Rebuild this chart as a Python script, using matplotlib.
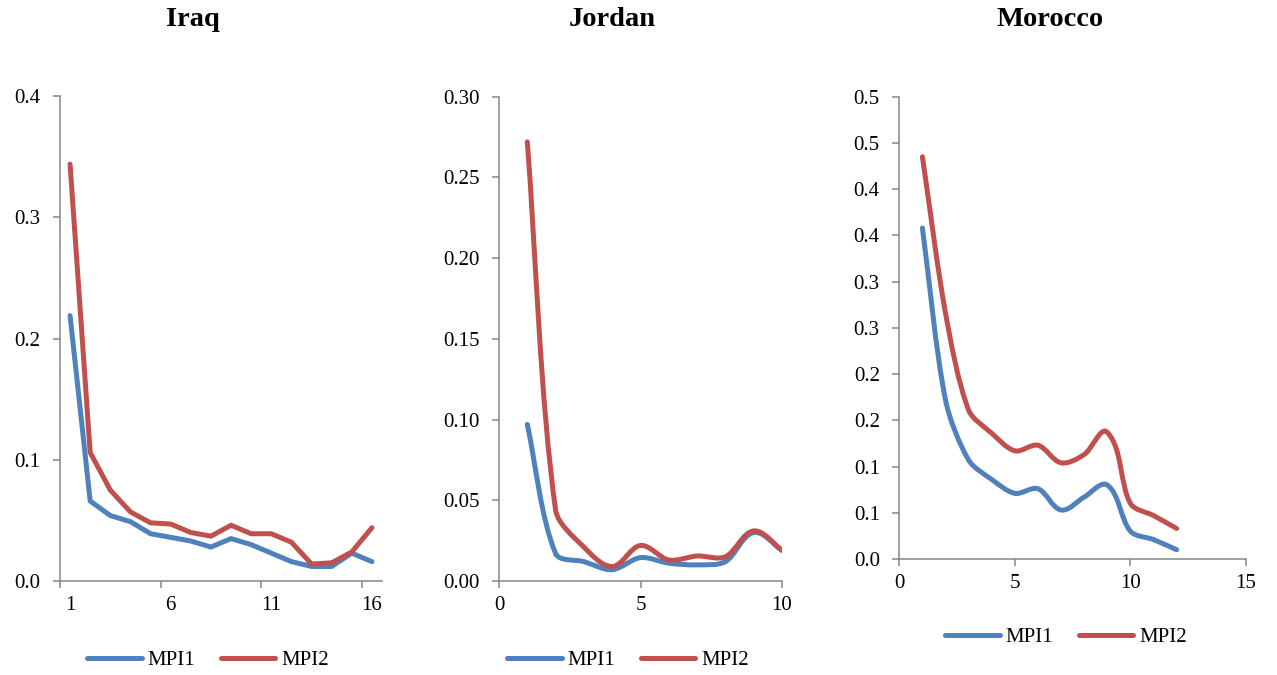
import matplotlib
matplotlib.use("Agg")
import matplotlib.pyplot as plt
from matplotlib.path import Path
from matplotlib.patches import PathPatch
from matplotlib.lines import Line2D

# ── Data ──────────────────────────────────────────────────────────────────────
iraq_x = [1, 2, 3, 4, 5, 6, 7, 8, 9, 10, 11, 12, 13, 14, 15, 16]
iraq_mpi1 = [0.219, 0.066, 0.054, 0.049, 0.039, 0.036, 0.033, 0.028,
             0.035, 0.030, 0.023, 0.016, 0.012, 0.012, 0.023, 0.016]
iraq_mpi2 = [0.344, 0.106, 0.075, 0.057, 0.048, 0.047, 0.040, 0.037,
             0.046, 0.039, 0.039, 0.032, 0.014, 0.015, 0.024, 0.044]

jordan_x = [1, 2, 3, 4, 5, 6, 7, 8, 9, 10]
jordan_mpi1 = [0.097, 0.017, 0.012, 0.007, 0.0145, 0.011, 0.010, 0.012, 0.030, 0.019]
jordan_mpi2 = [0.272, 0.044, 0.021, 0.009, 0.022, 0.013, 0.0155, 0.015, 0.031, 0.019]

morocco_x = [1, 2, 3, 4, 5, 6, 7, 8, 9, 10, 11, 12]
morocco_mpi1 = [0.358, 0.172, 0.107, 0.086, 0.071, 0.076, 0.053, 0.067,
                0.080, 0.030, 0.021, 0.010]
morocco_mpi2 = [0.435, 0.266, 0.161, 0.136, 0.117, 0.123, 0.104, 0.113,
                0.137, 0.060, 0.047, 0.033]

iraq_yticks = [0.0, 0.1, 0.2, 0.3, 0.4]
iraq_ylabels = ["0.0", "0.1", "0.2", "0.3", "0.4"]
iraq_xlabels = ["1", "6", "11", "16"]
jordan_yticks = [0.0, 0.05, 0.10, 0.15, 0.20, 0.25, 0.30]
jordan_ylabels = ["0.00", "0.05", "0.10", "0.15", "0.20", "0.25", "0.30"]
morocco_yticks = [0.0, 0.05, 0.1, 0.15, 0.2, 0.25, 0.3, 0.35, 0.4, 0.45, 0.5]
morocco_ylabels = ["0.0", "0.1", "0.1", "0.2", "0.2", "0.3", "0.3",
                   "0.4", "0.4", "0.5", "0.5"]

BLUE = "#4F81BD"
RED = "#C0504D"
AXIS = "#868686"
LW = 3.6

plt.rcParams["font.family"] = ["Liberation Serif", "DejaVu Serif"]
plt.rcParams["font.size"] = 15


def smooth_line(ax, xs, ys, color, wpx, hpx):
    # Excel-style smoothed line: bezier arms sized by screen segment length
    x0, x1 = ax.get_xlim()
    y0, y1 = ax.get_ylim()
    sx = wpx / (x1 - x0)
    sy = hpx / (y1 - y0)
    pts = [((x - x0) * sx, (y - y0) * sy) for x, y in zip(xs, ys)]
    n = len(pts)

    def dist(a, b):
        return ((a[0] - b[0]) ** 2 + (a[1] - b[1]) ** 2) ** 0.5

    tang = []
    for i in range(n):
        a = pts[max(i - 1, 0)]
        b = pts[min(i + 1, n - 1)]
        d = dist(a, b) or 1.0
        tang.append(((b[0] - a[0]) / d, (b[1] - a[1]) / d))

    k = 0.3
    verts = [pts[0]]
    codes = [Path.MOVETO]
    for i in range(n - 1):
        p1, p2 = pts[i], pts[i + 1]
        L = dist(p1, p2) * k
        c1 = (p1[0] + tang[i][0] * L, p1[1] + tang[i][1] * L)
        c2 = (p2[0] - tang[i + 1][0] * L, p2[1] - tang[i + 1][1] * L)
        verts += [c1, c2, p2]
        codes += [Path.CURVE4] * 3
    verts = [(vx / sx + x0, vy / sy + y0) for vx, vy in verts]
    ax.add_patch(PathPatch(Path(verts, codes), fill=False, edgecolor=color,
                           lw=LW, capstyle="round", joinstyle="round"))


def style_axes(ax):
    for s in ["top", "right"]:
        ax.spines[s].set_visible(False)
    for s in ["left", "bottom"]:
        ax.spines[s].set_color(AXIS)
        ax.spines[s].set_linewidth(1.1)
    ax.tick_params(which="major", direction="out", length=5, width=1.1,
                   color=AXIS, labelsize=15, labelcolor="black")
    ax.tick_params(axis="y", pad=9)
    ax.tick_params(axis="x", pad=6)


def add_legend(ax, cx, cy):
    handles = [Line2D([], [], color=BLUE, lw=LW, solid_capstyle="round"),
               Line2D([], [], color=RED, lw=LW, solid_capstyle="round")]
    ax.legend(handles, ["MPI1", "MPI2"], loc="center", ncol=2,
              bbox_to_anchor=(cx / 1277, 1 - cy / 675),
              bbox_transform=fig.transFigure, frameon=False,
              handlelength=2.6, handletextpad=0.3, columnspacing=1.2,
              fontsize=15)


fig = plt.figure(figsize=(12.77, 6.75), dpi=100)

# ── Iraq (category line chart) ───────────────────────────────────────────────
ax1 = fig.add_axes([60 / 1277, 1 - 581 / 675, 322 / 1277, 484.7 / 675])
ax1.plot(iraq_x, iraq_mpi1, color=BLUE, lw=LW, solid_capstyle="round",
         solid_joinstyle="round")
ax1.plot(iraq_x, iraq_mpi2, color=RED, lw=LW, solid_capstyle="round",
         solid_joinstyle="round")
ax1.set_xlim(0.5, 16.5)
ax1.set_ylim(0, 0.4)
ax1.set_yticks(iraq_yticks)
ax1.set_yticklabels(iraq_ylabels)
ax1.set_xticks([0.5, 5.5, 10.5, 15.5])
ax1.set_xticklabels([])
ax1.set_xticks([1, 6, 11, 16], minor=True)
ax1.set_xticklabels(iraq_xlabels, minor=True)
style_axes(ax1)
ax1.tick_params(axis="x", which="minor", length=0, labelsize=15, pad=11)
add_legend(ax1, 208, 660)
fig.text(193 / 1277, 1 - 20 / 675, "Iraq", ha="center", va="center",
         fontsize=20.5, fontweight="bold")

# ── Jordan (smoothed scatter) ─────────────────────────────────────────────────
ax2 = fig.add_axes([499 / 1277, 1 - 581 / 675, 283 / 1277, 484.3 / 675])
ax2.set_xlim(0, 10)
ax2.set_ylim(0, 0.30)
smooth_line(ax2, jordan_x, jordan_mpi1, BLUE, 283, 484.3)
smooth_line(ax2, jordan_x, jordan_mpi2, RED, 283, 484.3)
ax2.set_xticks([0, 5, 10])
ax2.set_yticks(jordan_yticks)
ax2.set_yticklabels(jordan_ylabels)
style_axes(ax2)
add_legend(ax2, 628, 660)
fig.text(612 / 1277, 1 - 20 / 675, "Jordan", ha="center", va="center",
         fontsize=20.5, fontweight="bold")

# ── Morocco (smoothed scatter) ────────────────────────────────────────────────
ax3 = fig.add_axes([899.3 / 1277, 1 - 559 / 675, 346.7 / 1277, 462.3 / 675])
ax3.set_xlim(0, 15)
ax3.set_ylim(0, 0.5)
smooth_line(ax3, morocco_x, morocco_mpi1, BLUE, 346.7, 462.3)
smooth_line(ax3, morocco_x, morocco_mpi2, RED, 346.7, 462.3)
ax3.set_xticks([0, 5, 10, 15])
ax3.set_yticks(morocco_yticks)
ax3.set_yticklabels(morocco_ylabels)
style_axes(ax3)
add_legend(ax3, 1066, 637)
fig.text(1050 / 1277, 1 - 20 / 675, "Morocco", ha="center", va="center",
         fontsize=20.5, fontweight="bold")

fig.savefig("out.png", dpi=100)
